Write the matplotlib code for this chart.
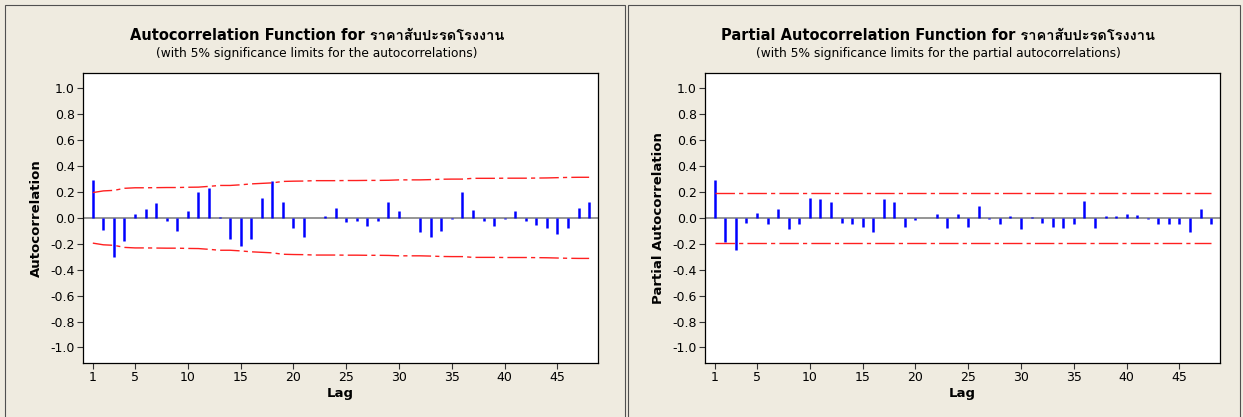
import numpy as np
import matplotlib
matplotlib.use('Agg')
import matplotlib.pyplot as plt
from matplotlib import font_manager
from matplotlib.ft2font import FT2Font

lags = list(range(1, 49))

acf = [0.29, -0.09, -0.30, -0.18, 0.026, 0.067, 0.118, -0.023, -0.098, 0.051,
       0.20, 0.234, 0.01, -0.167, -0.216, -0.167, 0.152, 0.286, 0.126, -0.075,
       -0.15, 0.0, 0.018, 0.075, -0.031, -0.023, -0.064, -0.023, 0.126, 0.051,
       0.0, -0.113, -0.147, -0.10, -0.008, 0.20, 0.059, -0.023, -0.064, -0.008,
       0.051, -0.023, -0.057, -0.082, -0.124, -0.075, 0.075, 0.126]

# upper 5% limit for the ACF (lower is the negative)
acf_limit = [0.195, 0.208, 0.212, 0.228, 0.232, 0.232, 0.233, 0.234, 0.234, 0.236,
             0.237, 0.243, 0.250, 0.250, 0.255, 0.262, 0.266, 0.270, 0.281, 0.283,
             0.284, 0.287, 0.287, 0.287, 0.288, 0.288, 0.289, 0.289, 0.290, 0.293,
             0.293, 0.293, 0.295, 0.298, 0.299, 0.299, 0.305, 0.305, 0.305, 0.306,
             0.306, 0.306, 0.307, 0.308, 0.310, 0.312, 0.313, 0.313]

pacf = [0.29, -0.19, -0.245, -0.036, 0.041, -0.051, 0.072, -0.085, -0.051, 0.157,
        0.149, 0.124, -0.036, -0.044, -0.067, -0.108, 0.147, 0.124, -0.069, -0.018,
        0.0, 0.033, -0.077, 0.033, -0.069, 0.09, -0.008, -0.051, 0.015, -0.085,
        0.005, -0.036, -0.069, -0.077, -0.051, 0.131, -0.077, 0.015, 0.015, 0.033,
        0.023, -0.01, -0.044, -0.051, -0.051, -0.108, 0.067, -0.044]
pacf_limit = 0.193

series_name = 'ราคาสับปะรดโรงงาน'
x_ticks = [1, 5, 10, 15, 20, 25, 30, 35, 40, 45]
y_ticks = [-1.0, -0.8, -0.6, -0.4, -0.2, 0.0, 0.2, 0.4, 0.6, 0.8, 1.0]

# find something that can draw Thai
thai_family = None
for f in font_manager.fontManager.ttflist:
    try:
        if FT2Font(f.fname).get_char_index(ord('ร')):
            thai_family = f.name
            break
    except Exception:
        pass
families = ['DejaVu Sans']
if thai_family:
    families.append(thai_family)
plt.rcParams['font.family'] = families

bg = '#EFEBE0'
fig = plt.figure(figsize=(12.43, 4.17), dpi=100, facecolor=bg)

# panel frames
for x0, x1 in [(5, 625), (628, 1240)]:
    fig.patches.append(plt.Rectangle((x0 / 1243, -0.1), (x1 - x0) / 1243, (417 - 5) / 417 + 0.1,
                                     transform=fig.transFigure, fill=False,
                                     edgecolor='#505050', linewidth=0.8))


def draw_panel(left, vals, upper, title, subtitle, ylabel, center):
    ax = fig.add_axes([left / 1243, 54 / 417, 515 / 1243, 290.3 / 417])
    ax.set_facecolor('white')
    ax.axhline(0, color='#8C8C8C', linewidth=1.3, zorder=1)
    ax.vlines(lags, 0, vals, colors='#0000FF', linewidth=1.8, zorder=2)
    up = np.array(upper)
    ax.plot(lags, up, color='#FF2020', linewidth=1.0, linestyle=(0, (14, 3, 3, 3)), zorder=3)
    ax.plot(lags, -up, color='#FF2020', linewidth=1.0, linestyle=(0, (14, 3, 3, 3)), zorder=3)
    ax.set_xlim(0.07, 48.84)
    ax.set_ylim(-1.12, 1.12)
    ax.set_xticks(x_ticks)
    ax.set_yticks(y_ticks)
    ax.set_yticklabels(['%.1f' % v for v in y_ticks])
    ax.tick_params(direction='out', length=4, width=0.8, labelsize=9, color='#333333', pad=2)
    for s in ax.spines.values():
        s.set_color('black')
        s.set_linewidth(0.9)
    ax.set_xlabel('Lag', fontsize=9.5, fontweight='bold', labelpad=2)
    ax.set_ylabel(ylabel, fontsize=9.5, fontweight='bold', labelpad=5)
    fig.text(center / 1243, 1 - 35 / 417, title, ha='center', va='center',
             fontsize=10.5, fontweight='bold')
    fig.text(center / 1243, 1 - 53 / 417, subtitle, ha='center', va='center', fontsize=8.8)
    return ax


draw_panel(83, acf, acf_limit,
           'Autocorrelation Function for ' + series_name,
           '(with 5% significance limits for the autocorrelations)',
           'Autocorrelation', 317)
draw_panel(705, pacf, [pacf_limit] * len(lags),
           'Partial Autocorrelation Function for ' + series_name,
           '(with 5% significance limits for the partial autocorrelations)',
           'Partial Autocorrelation', 938)

fig.savefig('out.png', dpi=100, facecolor=bg)
